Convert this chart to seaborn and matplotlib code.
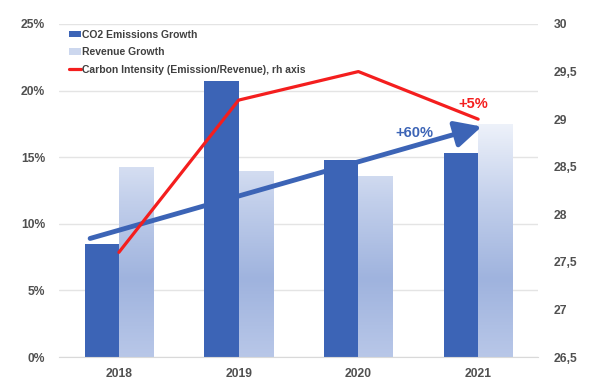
import numpy as np
import pandas as pd
import matplotlib
matplotlib.use("Agg")
import matplotlib.pyplot as plt
import seaborn as sns
from matplotlib.patches import Patch
from matplotlib.lines import Line2D
from matplotlib.colors import LinearSegmentedColormap
from matplotlib.ticker import FuncFormatter

years = ["2018", "2019", "2020", "2021"]
co2_growth = [8.5, 20.7, 14.8, 15.3]
revenue_growth = [14.3, 14.0, 13.6, 17.5]
carbon_intensity = [27.6, 29.2, 29.5, 29.0]
left_ticks = [0, 5, 10, 15, 20, 25]
right_ticks = [26.5, 27, 27.5, 28, 28.5, 29, 29.5, 30]
series_names = ["CO2 Emissions Growth", "Revenue Growth"]
line_name = "Carbon Intensity (Emission/Revenue), rh axis"
arrow_start = (-0.24, 8.9)
arrow_end = (3.03, 17.3)

sns.set_style("white")
plt.rcParams['font.family'] = ['Liberation Sans', 'DejaVu Sans']

BLUE = "#3c64b6"
RED = "#f41e1e"
TXT = "#505050"

df = pd.DataFrame({
    "year": years * 2,
    "value": co2_growth + revenue_growth,
    "series": [series_names[0]] * len(years) + [series_names[1]] * len(years),
})

fig = plt.figure(figsize=(6, 3.92), dpi=100)
ax = fig.add_axes([59/600, 1-357/392, 479/600, 333/392])

sns.barplot(data=df, x="year", y="value", hue="series", order=years,
            hue_order=series_names, palette=[BLUE, "#c5d2ec"], width=0.57,
            gap=0, ax=ax, legend=False, saturation=1, edgecolor="none")

ax.set_xlim(-0.5, len(years) - 0.5)
ax.set_ylim(0, 25)
ax.set_yticks(left_ticks)
ax.yaxis.set_major_formatter(FuncFormatter(lambda v, p: f"{int(v)}%"))
ax.set_xlabel("")
ax.set_ylabel("")
ax.grid(axis="y", color="#e4e4e4", lw=1)
ax.set_axisbelow(True)
for s in ["top", "left", "right"]:
    ax.spines[s].set_visible(False)
ax.spines["bottom"].set_color("#d9d9d9")
ax.tick_params(axis="y", length=0, pad=10, labelsize=8.7, labelcolor=TXT)
ax.tick_params(axis="x", length=0, pad=8, labelsize=8.7, labelcolor=TXT)
for lab in ax.get_xticklabels() + ax.get_yticklabels():
    lab.set_fontweight("bold")
ax.set_xticks(np.arange(len(years)) + 0.5, minor=True)
ax.tick_params(axis="x", which="minor", length=4, color="#d9d9d9")

# gradient for revenue bars
cmap = LinearSegmentedColormap.from_list("g", ["#b8c7e8", "#9fb3de", "#c2cfeb", "#eef2fa"])
grad = np.linspace(0, 1, 256).reshape(-1, 1)
rev_patches = ax.patches[len(years):2*len(years)]
for p in rev_patches:
    x0, y0 = p.get_x(), p.get_y()
    w, h = p.get_width(), p.get_height()
    p.set_facecolor("none")
    im = ax.imshow(grad, cmap=cmap, extent=[x0, x0 + w, 0, 17.5], origin="lower",
                   aspect="auto", zorder=p.get_zorder(), interpolation="bilinear")
    im.set_clip_path(p)
ax.set_xlim(-0.5, len(years) - 0.5)
ax.set_ylim(0, 25)

# arrow
ax.annotate("", xy=arrow_end, xytext=arrow_start,
            arrowprops=dict(arrowstyle="-|>,head_length=1.6,head_width=0.8",
                            lw=3.5, color=BLUE, shrinkA=0, shrinkB=0), zorder=5)
ax.text(2.47, 16.8, "+60%", color=BLUE, fontsize=10.5, fontweight="bold",
        ha="center", va="center", zorder=6)

ax2 = ax.twinx()
sns.lineplot(x=np.arange(len(years)), y=carbon_intensity, color=RED, lw=2.3, ax=ax2)
ax2.set_ylim(26.5, 30)
ax2.set_yticks(right_ticks)
ax2.yaxis.set_major_formatter(FuncFormatter(lambda v, p: (f"{v:g}").replace(".", ",")))
ax2.tick_params(axis="y", length=0, pad=11, labelsize=8.7, labelcolor=TXT)
for lab in ax2.get_yticklabels():
    lab.set_fontweight("bold")
for s in ax2.spines.values():
    s.set_visible(False)
ax2.set_ylabel("")
ax2.text(2.96, 29.16, "+5%", color=RED, fontsize=10.5, fontweight="bold",
         ha="center", va="center")

handles = [Patch(facecolor=BLUE, edgecolor="none"),
           Patch(facecolor="#ccd7ee", edgecolor="none"),
           Line2D([0], [0], color=RED, lw=2.3)]
leg = ax2.legend(handles, series_names + [line_name], loc="upper left",
                 bbox_to_anchor=(0.006, 1.004), frameon=False, fontsize=7.5,
                 handlelength=1.15, handleheight=0.55, handletextpad=0.1,
                 labelspacing=0.7, borderaxespad=0.3)
for t in leg.get_texts():
    t.set_fontweight("bold")
    t.set_color("#404040")

fig.savefig("out.png", dpi=100)
